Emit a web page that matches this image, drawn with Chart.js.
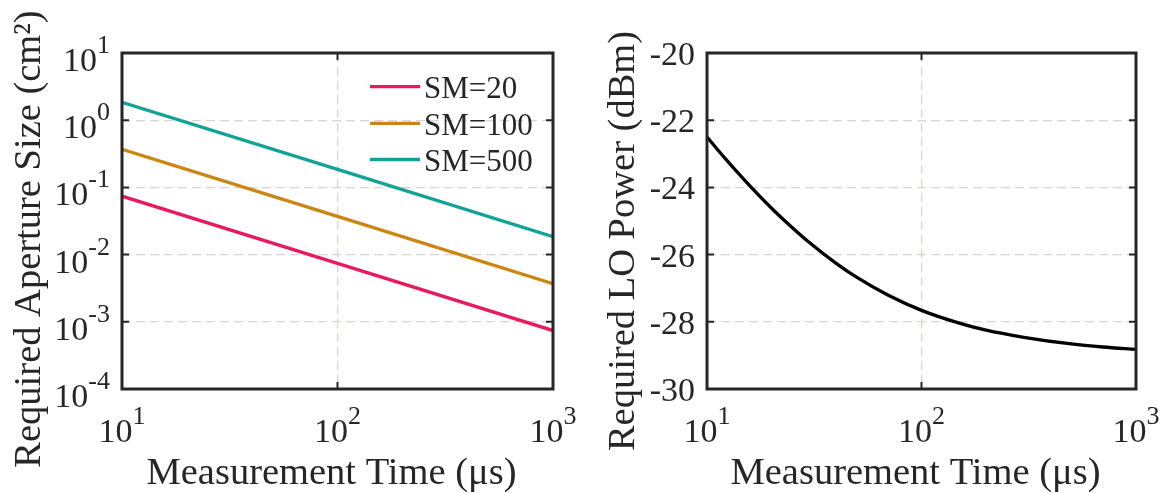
<!DOCTYPE html>
<html>
<head>
<meta charset="utf-8">
<script src="https://cdn.jsdelivr.net/npm/chart.js@4.4.1/dist/chart.umd.min.js"></script>
<style>
  html, body { margin: 0; padding: 0; background: #fff; }
  #wrap { position: relative; width: 1161px; height: 493px; }
  canvas { position: absolute; top: 0; }
</style>
</head>
<body>
<div id="wrap">
  <canvas id="left" width="580" height="493" style="left:0"></canvas>
  <canvas id="right" width="581" height="493" style="left:580px"></canvas>
</div>
<script>
// datos del panel izquierdo (log-log)
const timesLeft = [10, 100, 1000];
const sm20 = [0.074, 0.0074, 0.00074];
const sm100 = [0.37, 0.037, 0.0037];
const sm500 = [1.85, 0.185, 0.0185];
const seriesLabels = ['SM=20', 'SM=100', 'SM=500'];
const seriesColors = ['#e8195f', '#ca8610', '#12a396'];

// datos del panel derecho
const timesRight = [10, 12, 15, 20, 25, 30, 40, 50, 70, 100, 150, 200, 300, 500, 700, 1000];
const loPower = [-22.5, -23.1, -23.79, -24.62, -25.2, -25.64, -26.26, -26.68, -27.21, -27.66, -28.04, -28.25, -28.46, -28.66, -28.75, -28.82];

// ticks
const xTicks = [10, 100, 1000];
const xTickExp = ['1', '2', '3'];
const leftYTicks = [1e-4, 1e-3, 1e-2, 1e-1, 1, 10];
const leftYTickExp = ['-4', '-3', '-2', '-1', '0', '1'];
const rightYTicks = [-30, -28, -26, -24, -22, -20];
const rightYTickLabels = ['-30', '-28', '-26', '-24', '-22', '-20'];

const FONT = '"Liberation Serif", "Times New Roman", serif';
const INK = '#262626';
const GRID = '#dcd4ce';
const TICK_PX = 34, SUP_PX = 26, TITLE_PX = 38.5, LEGEND_PX = 31;

function drawPow(ctx, base, exp, x, baseline, align) {
    ctx.font = TICK_PX + 'px ' + FONT;
    const wb = ctx.measureText(base).width;
    ctx.font = SUP_PX + 'px ' + FONT;
    const we = ctx.measureText(exp).width;
    const total = wb + we;
    let start = x - total / 2;
    if (align === 'right') start = x - total;
    ctx.textAlign = 'left';
    ctx.textBaseline = 'alphabetic';
    ctx.font = TICK_PX + 'px ' + FONT;
    ctx.fillText(base, start, baseline);
    ctx.font = SUP_PX + 'px ' + FONT;
    ctx.fillText(exp, start + wb, baseline - 18);
}

// Ejes estilo MATLAB: caja, ticks hacia dentro, etiquetas y leyenda
const matlabAxes = {
    id: 'matlabAxes',
    afterDatasetsDraw(chart, args, opts) {
        const ctx = chart.ctx;
        const a = chart.chartArea;
        const xs = chart.scales.x, ys = chart.scales.y;
        ctx.save();
        ctx.fillStyle = INK;
        ctx.strokeStyle = INK;

        // marcas de tick
        ctx.lineWidth = 2;
        ctx.beginPath();
        xTicks.forEach(v => {
            const px = xs.getPixelForValue(v);
            ctx.moveTo(px, a.bottom); ctx.lineTo(px, a.bottom - 7);
            ctx.moveTo(px, a.top); ctx.lineTo(px, a.top + 7);
        });
        opts.yTicks.forEach(v => {
            const py = ys.getPixelForValue(v);
            ctx.moveTo(a.left, py); ctx.lineTo(a.left + 7, py);
            ctx.moveTo(a.right, py); ctx.lineTo(a.right - 7, py);
        });
        ctx.stroke();

        // caja
        ctx.lineWidth = 3;
        ctx.strokeRect(a.left, a.top, a.right - a.left, a.bottom - a.top);

        // etiquetas eje x
        xTicks.forEach((v, i) => {
            drawPow(ctx, '10', xTickExp[i], xs.getPixelForValue(v), 442, 'center');
        });

        // etiquetas eje y
        if (opts.yExp) {
            opts.yTicks.forEach((v, i) => {
                drawPow(ctx, '10', opts.yExp[i], a.left - 12, ys.getPixelForValue(v) + 18, 'right');
            });
        } else {
            ctx.font = TICK_PX + 'px ' + FONT;
            ctx.textAlign = 'right';
            ctx.textBaseline = 'alphabetic';
            opts.yTicks.forEach((v, i) => {
                ctx.fillText(opts.yLabels[i], a.left - 12, ys.getPixelForValue(v) + 12);
            });
        }

        // títulos
        ctx.font = TITLE_PX + 'px ' + FONT;
        ctx.textAlign = 'center';
        ctx.textBaseline = 'alphabetic';
        ctx.fillText('Measurement Time (\u03bcs)', (a.left + a.right) / 2 - 6, 484);
        ctx.save();
        ctx.translate(opts.yTitleX, opts.yTitleY);
        ctx.rotate(-Math.PI / 2);
        ctx.textBaseline = 'middle';
        ctx.fillText(opts.yTitle, 0, 0);
        ctx.restore();

        // leyenda
        if (opts.legend) {
            ctx.font = LEGEND_PX + 'px ' + FONT;
            ctx.textAlign = 'left';
            ctx.textBaseline = 'alphabetic';
            chart.data.datasets.forEach((ds, i) => {
                const y = opts.legend.rows[i];
                ctx.strokeStyle = ds.borderColor;
                ctx.lineWidth = 3.3;
                ctx.beginPath();
                ctx.moveTo(opts.legend.x0, y);
                ctx.lineTo(opts.legend.x1, y);
                ctx.stroke();
                ctx.fillStyle = INK;
                ctx.fillText(ds.label, opts.legend.x1 + 4, y + 11.5);
            });
        }
        ctx.restore();
    }
};

function logAxis(min, max, ticks, isX) {
    const ax = {
        type: 'logarithmic', min: min, max: max,
        afterBuildTicks: s => { s.ticks = ticks.map(v => ({ value: v })); },
        ticks: { display: false },
        grid: { drawTicks: false, color: GRID, lineWidth: 1.3 },
        border: { display: false, dash: [9, 5] }
    };
    if (isX) ax.afterFit = s => { s.height = 0; };
    else ax.afterFit = s => { s.width = 0; };
    return ax;
}

const leftSeries = [sm20, sm100, sm500];

new Chart(document.getElementById('left'), {
    type: 'line',
    data: {
        datasets: leftSeries.map((vals, i) => ({
            label: seriesLabels[i],
            data: timesLeft.map((t, j) => ({ x: t, y: vals[j] })),
            borderColor: seriesColors[i],
            borderWidth: 3.3,
            pointRadius: 0,
            fill: false
        }))
    },
    options: {
        responsive: false,
        animation: false,
        devicePixelRatio: 1,
        layout: { padding: { left: 122, right: 27, top: 53, bottom: 104 } },
        scales: {
            x: logAxis(10, 1000, xTicks, true),
            y: logAxis(1e-4, 10, leftYTicks, false)
        },
        plugins: {
            legend: { display: false },
            tooltip: { enabled: false },
            matlabAxes: {
                yTicks: leftYTicks,
                yExp: leftYTickExp,
                yTitle: 'Required Aperture Size (cm\u00b2)',
                yTitleX: 30, yTitleY: 239,
                legend: { x0: 370, x1: 420, rows: [86.7, 123.3, 159.5] }
            }
        }
    },
    plugins: [matlabAxes]
});

new Chart(document.getElementById('right'), {
    type: 'line',
    data: {
        datasets: [{
            label: 'LO',
            data: timesRight.map((t, j) => ({ x: t, y: loPower[j] })),
            borderColor: '#000000',
            borderWidth: 3.3,
            pointRadius: 0,
            cubicInterpolationMode: 'monotone',
            fill: false
        }]
    },
    options: {
        responsive: false,
        animation: false,
        devicePixelRatio: 1,
        layout: { padding: { left: 127, right: 25, top: 53, bottom: 104 } },
        scales: {
            x: logAxis(10, 1000, xTicks, true),
            y: {
                type: 'linear', min: -30, max: -20,
                afterBuildTicks: s => { s.ticks = rightYTicks.map(v => ({ value: v })); },
                afterFit: s => { s.width = 0; },
                ticks: { display: false },
                grid: { drawTicks: false, color: GRID, lineWidth: 1.3 },
                border: { display: false, dash: [9, 5] }
            }
        },
        plugins: {
            legend: { display: false },
            tooltip: { enabled: false },
            matlabAxes: {
                yTicks: rightYTicks,
                yLabels: rightYTickLabels,
                yTitle: 'Required LO Power (dBm)',
                yTitleX: 44, yTitleY: 241
            }
        }
    },
    plugins: [matlabAxes]
});
</script>
</body>
</html>
